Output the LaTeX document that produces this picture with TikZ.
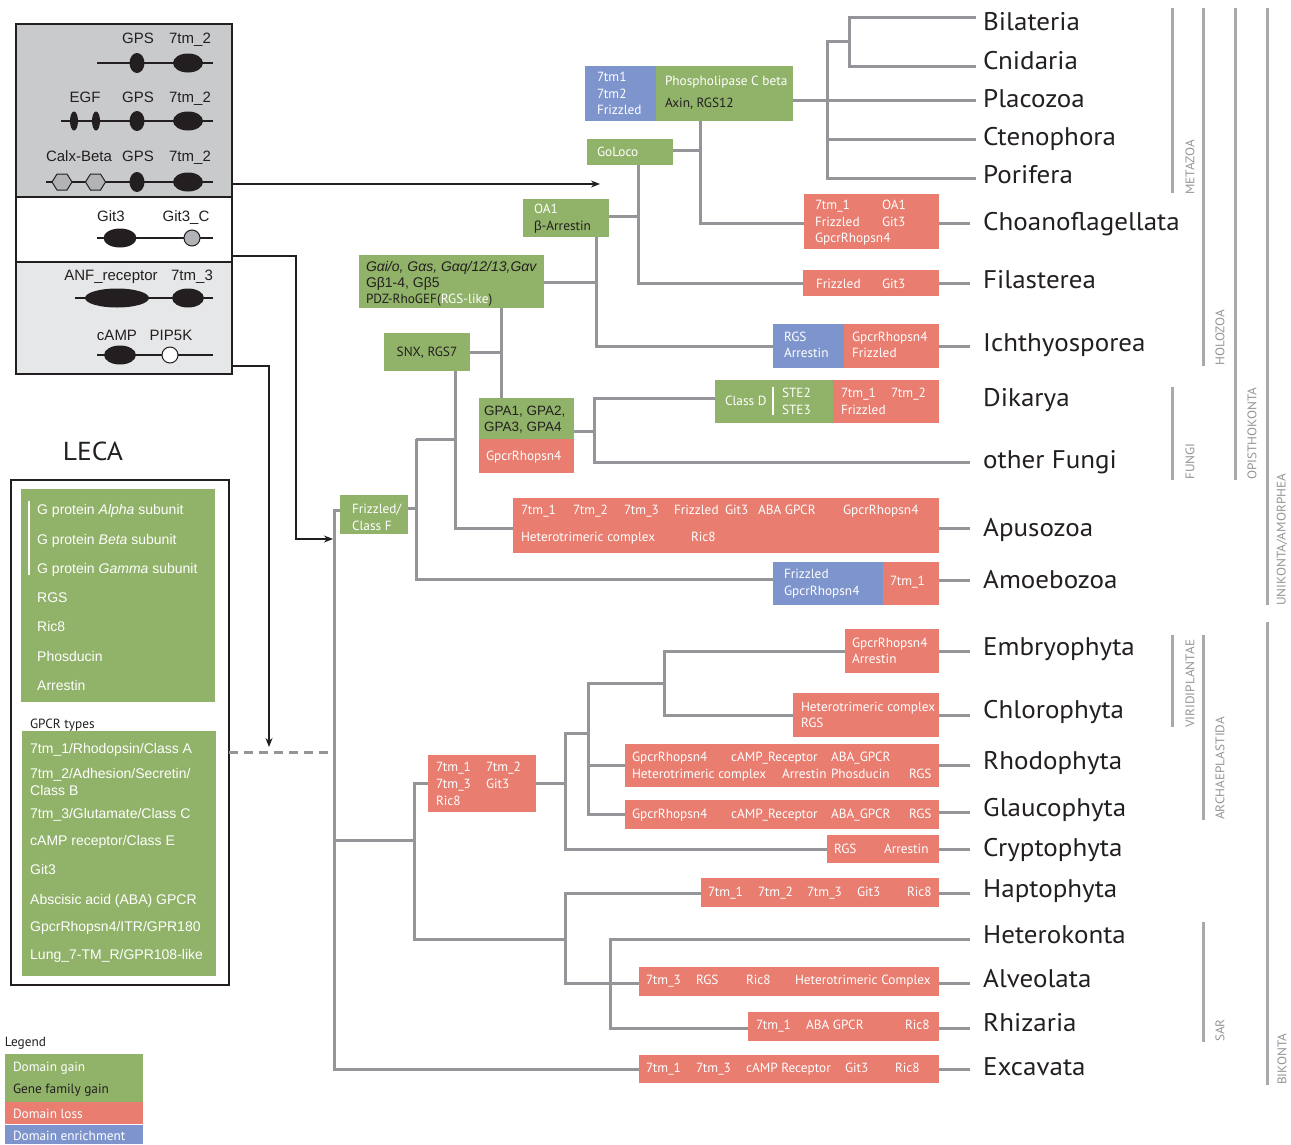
\documentclass[tikz,border=0pt]{standalone}
\usepackage{fontspec}
\setmainfont{PT Sans}
\newfontfamily\taxf{PT Sans}[FakeStretch=1.06]
\newfontfamily\arial{Liberation Sans}
\usetikzlibrary{arrows.meta}
\definecolor{gr}{HTML}{91B269}
\definecolor{rd}{HTML}{E87D70}
\definecolor{bl}{HTML}{7D94CC}
\definecolor{tg}{HTML}{939598}
\definecolor{cg}{HTML}{A7A9AC}
\definecolor{tx}{HTML}{231F20}
\definecolor{dk}{HTML}{231F20}
\definecolor{panA}{HTML}{C9CACC}
\definecolor{panB}{HTML}{E6E7E8}
\definecolor{hexg}{HTML}{B1B3B6}
\newcommand\bx[6]{\node[bxs, fill=#2, minimum width={(#5-#3)*1pt}, minimum height={(#6-#4)*1pt}] (#1) at (#3,#4) {};}
\begin{document}
\begin{tikzpicture}[x=1pt,y=-1pt,
  bxs/.style={anchor=north west, inner sep=0pt, outer sep=0pt, draw=none},
  w/.style={anchor=base west, inner sep=0pt, outer sep=0pt, text=white, font=\fontsize{13.3}{15}\selectfont},
  k/.style={w, text=tx},
  dl/.style={anchor=base, inner sep=0pt, text=dk, font=\arial\fontsize{15}{17}\selectfont},
  lk/.style={anchor=base west, inner sep=0pt, text=white, font=\arial\fontsize{14}{16}\selectfont},
  taxon/.style={anchor=base west, inner sep=0pt, text=tx, font=\taxf\fontsize{25.5}{30}\selectfont},
  tree/.style={draw=tg, line width=3pt},
  cbar/.style={draw=cg, line width=3pt},
  clbl/.style={rotate=90, anchor=west, inner sep=0pt, text=tg, font=\taxf\fontsize{12.5}{14}\selectfont},
  arr/.style={draw=dk, line width=1.4pt, -{Stealth[length=9pt,width=7pt]}},
  dom/.style={draw=dk, line width=1.2pt},
]
\useasboundingbox (0,0) rectangle (1291,1144);

% ---------- domain panel ----------
\node[bxs, fill=panA, draw=dk, line width=1.5pt, minimum width=216pt, minimum height=173pt] (secA) at (16,24) {};
\node[bxs, fill=white, draw=dk, line width=1.5pt, minimum width=216pt, minimum height=65pt] (secB) at (16,197) {};
\node[bxs, fill=panB, draw=dk, line width=1.5pt, minimum width=216pt, minimum height=112pt] (secC) at (16,262) {};

\node[dl] (l1a) at (138,43.5) {GPS};
\node[dl] (l1b) at (190,43.5) {7tm\_2};
\draw[dom] (97,63) -- (213,63);
\fill[dk] (137,63) ellipse [x radius=7.5pt, y radius=10pt];
\fill[dk] (188,63) ellipse [x radius=15pt, y radius=9.5pt];

\node[dl] (l2a) at (85,102.5) {EGF};
\node[dl] (l2b) at (138,102.5) {GPS};
\node[dl] (l2c) at (190,102.5) {7tm\_2};
\draw[dom] (61,121) -- (213,121);
\fill[dk] (74,121) ellipse [x radius=4pt, y radius=9.5pt];
\fill[dk] (96,121) ellipse [x radius=4pt, y radius=9.5pt];
\fill[dk] (137,121) ellipse [x radius=7.5pt, y radius=10pt];
\fill[dk] (188,121) ellipse [x radius=15pt, y radius=9.5pt];

\node[dl] (l3a) at (79,161.5) {Calx-Beta};
\node[dl] (l3b) at (138,161.5) {GPS};
\node[dl] (l3c) at (190,161.5) {7tm\_2};
\draw[dom] (46,182) -- (213,182);
\draw[fill=hexg, draw=dk, line width=1pt] (52,182) -- (57,174) -- (67,174) -- (72,182) -- (67,190) -- (57,190) -- cycle;
\draw[fill=hexg, draw=dk, line width=1pt] (85.5,182) -- (90.5,174) -- (100.5,174) -- (105.5,182) -- (100.5,190) -- (90.5,190) -- cycle;
\fill[dk] (137,182) ellipse [x radius=7.5pt, y radius=10pt];
\fill[dk] (188,182) ellipse [x radius=15pt, y radius=9.5pt];

\node[dl] (l4a) at (111,221.5) {Git3};
\node[dl] (l4b) at (186,221.5) {Git3\_C};
\draw[dom] (97,238) -- (213,238);
\fill[dk] (120,238) ellipse [x radius=16.5pt, y radius=9.5pt];
\draw[fill=hexg, draw=dk, line width=1pt] (192,238) circle [radius=8pt];

\node[dl] (l5a) at (111,280) {ANF\_receptor};
\node[dl] (l5b) at (192,280) {7tm\_3};
\draw[dom] (75,298) -- (213,298);
\fill[dk] (117,298) ellipse [x radius=32pt, y radius=9.5pt];
\fill[dk] (188,298) ellipse [x radius=16pt, y radius=9.5pt];

\node[dl] (l6a) at (117,340) {cAMP};
\node[dl] (l6b) at (171,340) {PIP5K};
\draw[dom] (97,355) -- (213,355);
\fill[dk] (120,355) ellipse [x radius=16pt, y radius=9.5pt];
\draw[fill=white, draw=dk, line width=1pt] (170,355) circle [radius=8pt];

% ---------- LECA ----------
\node[anchor=base, inner sep=0pt, text=tx, font=\taxf\fontsize{26}{30}\selectfont] (leca) at (93,460) {LECA};
\node[bxs, draw=dk, line width=1.5pt, minimum width=218pt, minimum height=505pt] (lecabox) at (11,480) {};
\bx{lecaA}{gr}{21}{489}{215}{702}
\bx{lecaB}{gr}{22}{731}{216}{976}
\draw[white, line width=1.5pt] (29,501) -- (29,575);
\node[lk] (la1) at (37,514) {G protein \textit{Alpha} subunit};
\node[lk] (la2) at (37,544) {G protein \textit{Beta} subunit};
\node[lk] (la3) at (37,573) {G protein \textit{Gamma} subunit};
\node[lk] (la4) at (37,602) {RGS};
\node[lk] (la5) at (37,631) {Ric8};
\node[lk] (la6) at (37,661) {Phosducin};
\node[lk] (la7) at (37,690) {Arrestin};
\node[k] (gpcrt) at (30,728) {GPCR types};
\node[lk] (lb1) at (30,753) {7tm\_1/Rhodopsin/Class A};
\node[lk] (lb2) at (30,778) {7tm\_2/Adhesion/Secretin/};
\node[lk] (lb2b) at (30,795) {Class B};
\node[lk] (lb3) at (30,818) {7tm\_3/Glutamate/Class C};
\node[lk] (lb4) at (30,845) {cAMP receptor/Class E};
\node[lk] (lb5) at (30,874) {Git3};
\node[lk] (lb6) at (30,904) {Abscisic acid (ABA) GPCR};
\node[lk] (lb7) at (30,931) {GpcrRhopsn4/ITR/GPR180};
\node[lk] (lb8) at (30,959) {Lung\_7-TM\_R/GPR108-like};

% ---------- legend ----------
\node[k] (legt) at (5,1046) {Legend};
\bx{legG}{gr}{5}{1054}{143}{1102}
\bx{legR}{rd}{5}{1102}{143}{1124}
\bx{legB}{bl}{5}{1125}{143}{1144}
\node[w] (leg1) at (13,1071) {Domain gain};
\node[k] (leg2) at (13,1093) {Gene family gain};
\node[w] (leg3) at (13,1118) {Domain loss};
\node[w] (leg4) at (13,1140) {Domain enrichment};

% ---------- tree boxes ----------
\bx{plcB}{bl}{585}{66}{656}{121}
\bx{plcG}{gr}{656}{66}{793}{121}
\bx{goloco}{gr}{587}{139}{673}{165}
\bx{oa}{gr}{523}{199}{609}{237}
\bx{galpha}{gr}{359}{255}{544}{308}
\bx{snx}{gr}{384}{333}{470}{371}
\bx{gpaG}{gr}{479}{398}{574}{439}
\bx{gpaR}{rd}{479}{439}{574}{473}
\bx{frizF}{gr}{340}{495}{408}{534}
\bx{choano}{rd}{804}{194}{939}{249}
\bx{filas}{rd}{803}{270}{939}{296}
\bx{ichB}{bl}{773}{324}{844}{368}
\bx{ichR}{rd}{844}{324}{939}{368}
\bx{dikG}{gr}{715}{380}{833}{423}
\bx{dikR}{rd}{833}{380}{939}{423}
\bx{apus}{rd}{513}{498}{939}{553}
\bx{amoB}{bl}{773}{562}{883}{605}
\bx{amoR}{rd}{883}{562}{939}{605}
\bx{arch}{rd}{428}{755}{536}{812}
\bx{embr}{rd}{845}{629}{939}{673}
\bx{chlo}{rd}{793}{693}{939}{737}
\bx{rhod}{rd}{625}{744}{939}{787}
\bx{glau}{rd}{625}{800}{939}{829}
\bx{cryp}{rd}{827}{835}{939}{863}
\bx{hapt}{rd}{701}{878}{939}{907}
\bx{alve}{rd}{639}{967}{939}{996}
\bx{rhiz}{rd}{748}{1012}{939}{1041}
\bx{exca}{rd}{639}{1055}{939}{1083}

% ---------- box texts ----------
\node[w] (t1) at (597,81.5) {7tm1};
\node[w] (t2) at (597,98) {7tm2};
\node[w] (t3) at (597,114.5) {Frizzled};
\node[w] (t4) at (665,85.5) {Phospholipase C beta};
\node[k] (t5) at (665,107.5) {Axin, RGS12};
\node[w] (t6) at (597,156) {GoLoco};
\node[w] (t7) at (534,213.5) {OA1};
\node[k] (t8) at (534,230.5) {{\arial β}-Arrestin};
\node[k, font=\arial\itshape\fontsize{14}{16}\selectfont] (t9) at (366,271) {Gαi/o, Gαs, Gαq/12/13,Gαv};
\node[k, font=\arial\fontsize{14}{16}\selectfont] (t10) at (366,287) {Gβ1-4, Gβ5};
\node[k] (t11) at (366,303.5) {PDZ-RhoGEF(\textcolor{white}{RGS-like})};
\node[k, anchor=base] (t12) at (427,356.5) {SNX, RGS7};
\node[k, font=\arial\fontsize{13.5}{16}\selectfont] (t13) at (484,415) {GPA1, GPA2,};
\node[k, font=\arial\fontsize{13.5}{16}\selectfont] (t14) at (484,431) {GPA3, GPA4};
\node[w] (t15) at (486,460.5) {GpcrRhopsn4};
\node[w] (t16) at (352,513.5) {Frizzled/};
\node[w] (t17) at (352,530.5) {Class F};

\node[w] (c1) at (815,209.5) {7tm\_1};
\node[w] (c2) at (882,209.5) {OA1};
\node[w] (c3) at (815,226.5) {Frizzled};
\node[w] (c4) at (882,226.5) {Git3};
\node[w] (c5) at (815,242.5) {GpcrRhopsn4};
\node[w] (f1) at (816,288.5) {Frizzled};
\node[w] (f2) at (882,288.5) {Git3};
\node[w] (i1) at (784,341.5) {RGS};
\node[w] (i2) at (784,357.5) {Arrestin};
\node[w] (i3) at (852,341.5) {GpcrRhopsn4};
\node[w] (i4) at (852,357.5) {Frizzled};
\node[w] (d1) at (725,405.5) {Class D};
\draw[white, line width=1.5pt] (773,387) -- (773,415);
\node[w] (d2) at (782,397.5) {STE2};
\node[w] (d3) at (782,414.5) {STE3};
\node[w] (d4) at (841,397.5) {7tm\_1};
\node[w] (d5) at (891,397.5) {7tm\_2};
\node[w] (d6) at (841,414.5) {Frizzled};

\node[w] (a1) at (521,514.5) {7tm\_1};
\node[w] (a2) at (573,514.5) {7tm\_2};
\node[w] (a3) at (624,514.5) {7tm\_3};
\node[w] (a4) at (674,514.5) {Frizzled};
\node[w] (a5) at (725,514.5) {Git3};
\node[w] (a6) at (758,514.5) {ABA GPCR};
\node[w] (a7) at (843,514.5) {GpcrRhopsn4};
\node[w] (a8) at (521,541.5) {Heterotrimeric complex};
\node[w] (a9) at (691,541.5) {Ric8};
\node[w] (m1) at (784,578.5) {Frizzled};
\node[w] (m2) at (784,595.5) {GpcrRhopsn4};
\node[w] (m3) at (890,585.5) {7tm\_1};

\node[w] (h1) at (436,771.5) {7tm\_1};
\node[w] (h2) at (486,771.5) {7tm\_2};
\node[w] (h3) at (436,788.5) {7tm\_3};
\node[w] (h4) at (486,788.5) {Git3};
\node[w] (h5) at (436,805.5) {Ric8};
\node[w] (e1) at (852,647.5) {GpcrRhopsn4};
\node[w] (e2) at (852,663.5) {Arrestin};
\node[w] (g1) at (801,711.5) {Heterotrimeric complex};
\node[w] (g2) at (801,727.5) {RGS};
\node[w] (r1) at (632,761.5) {GpcrRhopsn4};
\node[w] (r2) at (731,761.5) {cAMP\_Receptor};
\node[w] (r3) at (831,761.5) {ABA\_GPCR};
\node[w] (r4) at (632,778.5) {Heterotrimeric complex};
\node[w] (r5) at (782,778.5) {Arrestin};
\node[w] (r6) at (831,778.5) {Phosducin};
\node[w] (r7) at (909,778.5) {RGS};
\node[w] (q1) at (632,818) {GpcrRhopsn4};
\node[w] (q2) at (731,818) {cAMP\_Receptor};
\node[w] (q3) at (831,818) {ABA\_GPCR};
\node[w] (q4) at (909,818) {RGS};
\node[w] (y1) at (834,853) {RGS};
\node[w] (y2) at (884,853) {Arrestin};
\node[w] (p1) at (708,896.5) {7tm\_1};
\node[w] (p2) at (758,896.5) {7tm\_2};
\node[w] (p3) at (807,896.5) {7tm\_3};
\node[w] (p4) at (857,896.5) {Git3};
\node[w] (p5) at (907,896.5) {Ric8};
\node[w] (v1) at (646,984.5) {7tm\_3};
\node[w] (v2) at (696,984.5) {RGS};
\node[w] (v3) at (746,984.5) {Ric8};
\node[w] (v4) at (795,984.5) {Heterotrimeric Complex};
\node[w] (z1) at (756,1029.5) {7tm\_1};
\node[w] (z2) at (806,1029.5) {ABA GPCR};
\node[w] (z3) at (905,1029.5) {Ric8};
\node[w] (x1) at (646,1072.5) {7tm\_1};
\node[w] (x2) at (696,1072.5) {7tm\_3};
\node[w] (x3) at (746,1072.5) {cAMP Receptor};
\node[w] (x4) at (845,1072.5) {Git3};
\node[w] (x5) at (895,1072.5) {Ric8};

% ---------- taxa ----------
\node[taxon] (Bil) at (983,30.5) {Bilateria};
\node[taxon] (Cni) at (983,69.5) {Cnidaria};
\node[taxon] (Pla) at (983,107.5) {Placozoa};
\node[taxon] (Cte) at (983,145.5) {Ctenophora};
\node[taxon] (Por) at (983,183.5) {Porifera};
\node[taxon] (Cho) at (983,230.5) {Choanoflagellata};
\node[taxon] (Fil) at (983,288.5) {Filasterea};
\node[taxon] (Ich) at (983,351.5) {Ichthyosporea};
\node[taxon] (Dik) at (983,406.5) {Dikarya};
\node[taxon] (oFu) at (983,468.5) {other Fungi};
\node[taxon] (Apu) at (983,536.5) {Apusozoa};
\node[taxon] (Amo) at (983,588.5) {Amoebozoa};
\node[taxon] (Emb) at (983,655.5) {Embryophyta};
\node[taxon] (Chl) at (983,718.5) {Chlorophyta};
\node[taxon] (Rho) at (983,769.5) {Rhodophyta};
\node[taxon] (Gla) at (983,816.5) {Glaucophyta};
\node[taxon] (Cry) at (983,856.5) {Cryptophyta};
\node[taxon] (Hap) at (983,897.5) {Haptophyta};
\node[taxon] (Het) at (983,943.5) {Heterokonta};
\node[taxon] (Alv) at (983,987.5) {Alveolata};
\node[taxon] (Rhi) at (983,1031.5) {Rhizaria};
\node[taxon] (Exc) at (983,1075.5) {Excavata};

% ---------- tree ----------
\draw[tree] (976,17) -| (849,66) -- (976,66);
\draw[tree] (849,41) -| (827,178) -- (976,178);
\draw[tree] (827,139) -- (976,139);
\draw[tree] (plcG.east |- 0,100) -- (976,100);
\draw[tree] (goloco.east |- 0,150) -- (700,150);
\draw[tree] (plcG.south -| 700,0) -- (700,223) -- (choano.west |- 0,223);
\draw[tree] (choano.east |- 0,223) -- (970,223);
\draw[tree] (oa.east |- 0,216) -- (638,216);
\draw[tree] (goloco.south -| 638,0) -- (638,283) -- (filas.west |- 0,283);
\draw[tree] (filas.east |- 0,283) -- (970,283);
\draw[tree] (galpha.east |- 0,282) -- (596,282);
\draw[tree] (oa.south -| 596,0) -- (596,346) -- (ichB.west |- 0,346);
\draw[tree] (ichR.east |- 0,346) -- (970,346);
\draw[tree] (snx.east |- 0,352) -- (501,352);
\draw[tree] (galpha.south -| 501,0) -- (gpaG.north -| 501,0);
\draw[tree] (gpaG.east |- 0,431) -- (594,431);
\draw[tree] (dikG.west |- 0,398) -| (594,462) -- (970,462);
\draw[tree] (snx.south -| 455,0) -- (455,528) -- (apus.west |- 0,528);
\draw[tree] (apus.east |- 0,528) -- (970,528);
\draw[tree] (416,439) -- (455,439);
\draw[tree] (frizF.east |- 0,508) -- (416,508);
\draw[tree] (416,439) -- (416,579) -- (amoB.west |- 0,579);
\draw[tree] (amoR.east |- 0,580) -- (970,580);
\draw[tree] (frizF.west |- 0,510) -- (334,510) -- (334,1069) -- (exca.west |- 0,1069);
\draw[tree] (exca.east |- 0,1069) -- (970,1069);
\draw[tree] (334,840) -- (414,840);
\draw[tree] (arch.west |- 0,783) -| (414,939) -- (565,939);
\draw[tree] (arch.east |- 0,783) -- (565,783);
\draw[tree] (588,733) -| (565,849) -- (cryp.west |- 0,849);
\draw[tree] (cryp.east |- 0,849) -- (970,849);
\draw[tree] (664,683) -| (588,814) -- (glau.west |- 0,814);
\draw[tree] (588,765) -- (rhod.west |- 0,765);
\draw[tree] (rhod.east |- 0,765) -- (970,765);
\draw[tree] (glau.east |- 0,812) -- (970,812);
\draw[tree] (embr.west |- 0,651) -| (664,715) -- (chlo.west |- 0,715);
\draw[tree] (embr.east |- 0,651) -- (970,651);
\draw[tree] (chlo.east |- 0,715) -- (970,715);
\draw[tree] (hapt.west |- 0,893) -| (565,983) -- (alve.west |- 0,983);
\draw[tree] (hapt.east |- 0,893) -- (970,893);
\draw[tree] (alve.east |- 0,983) -- (970,983);
\draw[tree] (970,939) -| (610,1028) -- (rhiz.west |- 0,1028);
\draw[tree] (rhiz.east |- 0,1028) -- (970,1028);

% ---------- arrows ----------
\coordinate (a1end) at (600,184);
\coordinate (a2end) at (333,539);
\coordinate (a3end) at (269,747);
\draw[arr] (secA.east |- 0,184) -- (a1end);
\draw[arr] (secB.east |- 0,256) -- (296,256) -- (296,539) -- (a2end);
\draw[arr] (secC.east |- 0,366) -- (269,366) -- (a3end);
\draw[tg, line width=3pt, dash pattern=on 9pt off 6pt] (lecabox.east |- 0,752) -- (334,752);

% ---------- clade bars ----------
\draw[cbar] (1172,8) -- (1172,193);
\node[clbl] (cMet) at (1190,195) {METAZOA};
\draw[cbar] (1203,8) -- (1203,366);
\node[clbl] (cHol) at (1220,366) {HOLOZOA};
\draw[cbar] (1172,387) -- (1172,480);
\node[clbl] (cFun) at (1190,480) {FUNGI};
\draw[cbar] (1235,8) -- (1235,480);
\node[clbl] (cOpi) at (1252,480) {OPISTHOKONTA};
\draw[cbar] (1267,8) -- (1267,605);
\node[clbl] (cUni) at (1282,606) {UNIKONTA/AMORPHEA};
\draw[cbar] (1172,635) -- (1172,727);
\node[clbl] (cVir) at (1190,728) {VIRIDIPLANTAE};
\draw[cbar] (1203,635) -- (1203,820);
\node[clbl] (cArc) at (1220,820) {ARCHAEPLASTIDA};
\draw[cbar] (1203,922) -- (1203,1042);
\node[clbl] (cSar) at (1220,1042) {SAR};
\draw[cbar] (1267,622) -- (1267,1085);
\node[clbl] (cBik) at (1282,1085) {BIKONTA};
\end{tikzpicture}
\end{document}
